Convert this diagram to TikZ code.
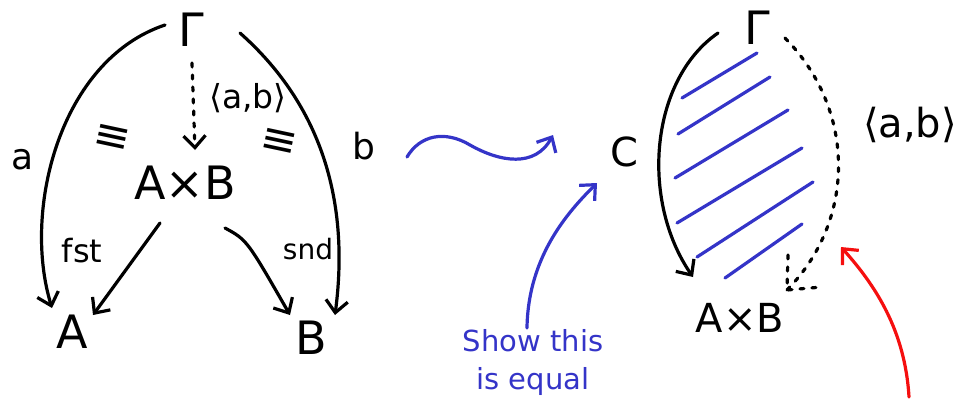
\documentclass[tikz,border=0pt]{standalone}
\usepackage{fontspec}
\setmainfont{DejaVu Sans}
\usetikzlibrary{arrows.meta,calc}
\definecolor{penblue}{RGB}{52,52,200}
\definecolor{penred}{RGB}{245,15,15}
\begin{document}
\begin{tikzpicture}[x=1pt,y=-1pt,
  ink/.style={line width=3.2pt,line cap=round,line join=round},
  tip/.style={-{Straight Barb[length=12pt,width=22pt,line width=3.2pt]}},
  dots/.style={dash pattern=on 4pt off 8pt},
  big/.style={inner sep=0pt,font=\fontsize{46}{48}\selectfont},
  mid/.style={inner sep=0pt,font=\fontsize{40}{44}\selectfont},
  lbl/.style={inner sep=0pt,font=\fontsize{36}{40}\selectfont},
  pair/.style={inner sep=0pt,font=\fontsize{33}{36}\selectfont},
  small/.style={inner sep=0pt,font=\fontsize{32}{34}\selectfont},
  equiv/.style={inner sep=0pt,font=\fontsize{44}{46}\selectfont,rotate=-12},
  note/.style={inner sep=0pt,font=\fontsize{29}{38}\selectfont,text=penblue,align=center},
]
\useasboundingbox (0,0) rectangle (958,402);

% ---------- left diagram ----------
\node[big] (G) at (191,30) {Γ};
\node[big] (P) at (185,183) {A×B};
\node[big] (A) at (72,332) {A};
\node[big] (B) at (311,338) {B};
\node[lbl] (la) at (23,160) {a};
\node[lbl] (lb) at (364,146) {b};
\node[pair] (lab) at (248,98) {⟨a,b⟩};
\node[small] (lf) at (82,251) {fst};
\node[small,font=\fontsize{28}{30}\selectfont] (ls) at (308,249) {snd};
\node[equiv] (e1) at (112,139) {≡};
\node[equiv] (e2) at (279,143) {≡};

\draw[ink,tip] ($(G)+(-26,-5)$) .. controls (60,60) and (22,210) .. ($(A)+(-20,-24)$);
\draw[ink,tip] ($(G)+(49,3)$) .. controls (310,95) and (352,185) .. ($(B)+(24,-23)$);
\draw[ink,dots,tip] ($(G)+(1,33)$) -- ($(P)+(10,-33)$);
\draw[ink,tip] ($(P)+(-25,40)$) -- ($(A)+(21,-17)$);
\draw[ink,tip] ($(P)+(40,45)$) .. controls (247,240) .. ($(B)+(-21,-23)$);

% ---------- squiggle ----------
\coordinate (s0) at (407,157);
\coordinate (s1) at (553,135);
\draw[ink,penblue,tip] (s0) .. controls (420,135) and (445,130) .. (470,145)
   .. controls (500,162) and (535,168) .. (s1);

% ---------- right diagram ----------
\node[mid] (C) at (624,152) {C};
\node[big] (G2) at (757,28) {Γ};
\node[mid] (P2) at (740,318) {A×B};
\node[mid] (lab2) at (910,125) {⟨a,b⟩};

% hatching
\foreach \xa/\ya/\xb/\yb in {682/98/757/53, 678/134/770/77, 675/178/788/110,
    677/223/802/148, 697/257/813/182, 725/278/802/224}
  \draw[ink,penblue] (\xa,\ya) -- (\xb,\yb);

\draw[ink,tip] ($(G2)+(-39,5)$) .. controls (650,80) and (640,200) .. ($(P2)+(-47,-41)$);

\coordinate (t2) at ($(P2)+(47,-28)$);
\draw[ink,dots] ($(G2)+(28,10)$) .. controls (856,110) and (856,220) .. (t2);
\draw[ink,dots] ($(t2)+(1,-35)$) -- (t2) -- ($(t2)+(35,-3)$);

% note
\node[note] (N) at (533,362) {Show this\\is equal};
\draw[ink,penblue,tip] ($(N)+(-6,-34)$) .. controls (528,255) and (570,210) .. ($(C)+(-27,31)$);

% red arrow
\coordinate (r0) at (909,397);
\coordinate (r1) at (841,247);
\draw[ink,penred,tip] (r0) .. controls (905,330) and (875,285) .. (r1);
\end{tikzpicture}
\end{document}
